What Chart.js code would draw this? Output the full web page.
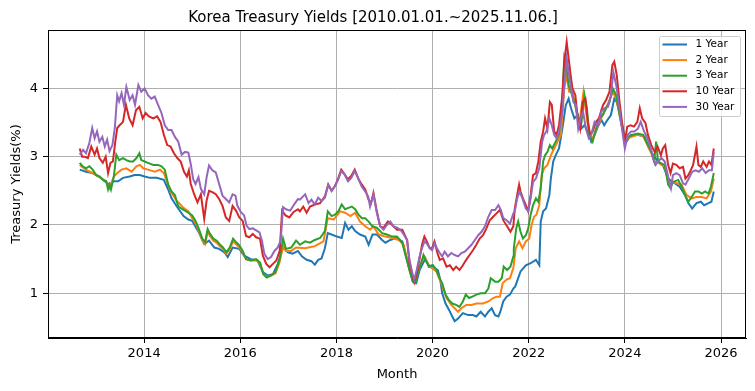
<!DOCTYPE html>
<html>
<head>
<meta charset="utf-8">
<script src="https://cdn.jsdelivr.net/npm/chart.js@4"></script>
<style>
  html, body { margin: 0; padding: 0; background: #fff; }
  #wrap { width: 755px; height: 391px; }
</style>
</head>
<body>
<div id="wrap"><canvas id="myChart" width="755" height="391"></canvas></div>
<script>
// series: [year, yield %]
var yield1Y = [[2012.66,2.81],[2012.79,2.78],[2012.93,2.76],[2013.07,2.71],[2013.18,2.64],[2013.28,2.59],[2013.37,2.64],[2013.46,2.64],[2013.56,2.69],[2013.70,2.71],[2013.80,2.73],[2013.91,2.73],[2014.01,2.71],[2014.12,2.69],[2014.26,2.69],[2014.41,2.66],[2014.50,2.52],[2014.57,2.39],[2014.68,2.27],[2014.82,2.13],[2014.92,2.08],
  [2015.00,2.06],[2015.14,1.89],[2015.25,1.72],[2015.35,1.77],[2015.46,1.67],[2015.56,1.65],[2015.67,1.60],[2015.74,1.53],[2015.84,1.67],[2015.98,1.65],[2016.08,1.55],[2016.22,1.50],[2016.36,1.48],[2016.47,1.31],[2016.57,1.26],[2016.68,1.28],[2016.78,1.43],[2016.89,1.67],[2016.99,1.60],[2017.09,1.58],[2017.20,1.62],
  [2017.28,1.54],[2017.38,1.49],[2017.48,1.47],[2017.55,1.42],[2017.62,1.49],[2017.69,1.51],[2017.76,1.66],[2017.82,1.88],[2017.90,1.86],[2018.01,1.83],[2018.11,1.81],[2018.18,2.03],[2018.25,1.93],[2018.32,1.98],[2018.39,1.91],[2018.49,1.86],[2018.60,1.83],[2018.67,1.71],[2018.75,1.86],[2018.84,1.86],[2018.95,1.78],[2019.02,1.74],[2019.12,1.78],[2019.23,1.81],[2019.37,1.76],[2019.47,1.49],
  [2019.52,1.34],[2019.59,1.17],[2019.66,1.15],[2019.73,1.34],[2019.80,1.44],[2019.85,1.51],[2019.92,1.39],[2019.99,1.41],[2020.04,1.37],[2020.11,1.34],[2020.16,1.20],[2020.20,1.00],[2020.27,0.85],[2020.34,0.76],[2020.41,0.66],[2020.46,0.59],[2020.53,0.63],[2020.63,0.71],[2020.74,0.68],[2020.84,0.68],[2020.91,0.66],[2021.00,0.73],[2021.09,0.66],[2021.16,0.73],[2021.23,0.78],[2021.30,0.68],[2021.37,0.66],[2021.41,0.73],[2021.47,0.88],[2021.54,0.95],[2021.61,0.98],[2021.68,1.07],[2021.72,1.10],
  [2021.83,1.32],[2021.94,1.41],[2022.04,1.44],[2022.15,1.49],[2022.22,1.41],[2022.25,2.05],[2022.30,2.20],[2022.36,2.24],[2022.43,2.44],[2022.46,2.68],[2022.51,2.93],[2022.56,3.02],[2022.63,3.12],[2022.70,3.41],[2022.77,3.75],[2022.83,3.85],[2022.88,3.71],[2022.95,3.56],[2023.02,3.61],[2023.09,3.41],[2023.16,3.46],[2023.23,3.37],[2023.30,3.22],[2023.37,3.32],[2023.44,3.44],[2023.51,3.54],[2023.57,3.46],[2023.64,3.54],[2023.71,3.61],[2023.78,3.85],[2023.83,3.80],[2023.89,3.66],[2023.96,3.41],[2024.00,3.22],
  [2024.03,3.22],[2024.13,3.32],[2024.27,3.32],[2024.41,3.29],[2024.48,3.17],[2024.59,3.02],[2024.69,2.93],[2024.79,2.88],[2024.90,2.68],[2025.00,2.63],[2025.14,2.56],[2025.25,2.44],[2025.32,2.32],[2025.40,2.24],[2025.49,2.32],[2025.58,2.34],[2025.65,2.29],[2025.74,2.32],[2025.80,2.34],[2025.85,2.49]];

var yield2Y = [[2012.66,2.88],[2012.79,2.81],[2013.00,2.73],[2013.21,2.64],[2013.28,2.54],[2013.37,2.71],[2013.44,2.76],[2013.53,2.81],[2013.63,2.83],[2013.74,2.78],[2013.84,2.86],[2013.91,2.88],[2013.98,2.83],[2014.08,2.81],[2014.22,2.78],[2014.33,2.81],[2014.41,2.76],[2014.50,2.59],[2014.57,2.47],[2014.68,2.35],[2014.82,2.25],[2014.92,2.20],
  [2015.00,2.10],[2015.07,2.03],[2015.14,1.91],[2015.21,1.77],[2015.27,1.72],[2015.32,1.90],[2015.37,1.84],[2015.44,1.77],[2015.51,1.74],[2015.57,1.69],[2015.64,1.65],[2015.71,1.58],[2015.78,1.64],[2015.85,1.76],[2015.91,1.72],[2015.98,1.67],[2016.05,1.60],[2016.12,1.50],[2016.22,1.48],[2016.33,1.48],[2016.41,1.44],[2016.48,1.28],[2016.55,1.24],[2016.64,1.26],[2016.73,1.29],[2016.82,1.46],[2016.89,1.70],[2016.95,1.62],[2017.06,1.62],[2017.16,1.67],
  [2017.35,1.66],[2017.55,1.69],[2017.73,1.76],[2017.82,2.10],[2017.94,2.08],[2018.08,2.20],[2018.18,2.18],[2018.29,2.13],[2018.39,2.18],[2018.49,2.05],[2018.60,1.98],[2018.70,1.93],[2018.77,1.98],[2018.88,1.86],[2019.02,1.83],[2019.16,1.81],[2019.30,1.78],[2019.40,1.71],[2019.47,1.49],
  [2019.52,1.34],[2019.62,1.15],[2019.76,1.44],[2019.83,1.54],[2019.94,1.39],[2020.08,1.32],[2020.18,1.15],[2020.29,0.93],[2020.39,0.83],[2020.46,0.78],[2020.53,0.73],[2020.60,0.78],[2020.70,0.83],[2020.81,0.83],[2020.91,0.85],[2021.05,0.85],[2021.16,0.88],[2021.26,0.93],[2021.33,0.95],[2021.40,0.95],[2021.46,1.15],[2021.54,1.20],[2021.61,1.22],[2021.68,1.37],
  [2021.73,1.66],[2021.80,1.76],[2021.87,1.66],[2021.94,1.76],[2022.01,1.80],[2022.06,2.00],[2022.11,2.12],[2022.16,2.15],[2022.22,2.29],[2022.27,2.73],[2022.32,2.83],[2022.39,2.88],[2022.46,3.02],[2022.53,3.12],[2022.60,3.22],[2022.67,3.32],[2022.74,4.00],[2022.79,4.20],[2022.84,3.95],[2022.91,3.95],[2022.98,3.71],[2023.05,3.46],[2023.14,3.95],[2023.19,3.66],[2023.26,3.32],[2023.33,3.27],[2023.44,3.46],[2023.54,3.61],[2023.64,3.76],[2023.75,3.95],[2023.82,3.85],[2023.89,3.61],[2024.00,3.22],
  [2024.06,3.27],[2024.17,3.30],[2024.27,3.32],[2024.38,3.30],[2024.48,3.15],[2024.55,3.05],[2024.61,2.93],[2024.69,2.92],[2024.76,2.88],[2024.83,2.86],[2024.90,2.63],[2025.00,2.63],[2025.18,2.59],[2025.28,2.44],[2025.39,2.39],[2025.49,2.41],[2025.60,2.41],[2025.70,2.39],[2025.79,2.49],[2025.85,2.68]];

var yield3Y = [[2012.66,2.91],[2012.72,2.86],[2012.79,2.83],[2012.86,2.86],[2012.93,2.81],[2013.00,2.73],[2013.07,2.71],[2013.14,2.66],[2013.21,2.64],[2013.25,2.52],[2013.28,2.59],[2013.31,2.52],[2013.37,2.71],[2013.42,3.03],[2013.48,2.95],[2013.56,2.98],[2013.63,2.95],[2013.70,2.93],[2013.77,2.93],[2013.84,2.98],[2013.90,3.05],[2013.94,2.95],[2014.01,2.93],[2014.08,2.91],[2014.19,2.88],[2014.29,2.88],[2014.36,2.86],[2014.43,2.81],[2014.50,2.59],[2014.57,2.49],[2014.64,2.44],[2014.71,2.27],[2014.82,2.22],[2014.92,2.18],
  [2015.00,2.14],[2015.07,2.06],[2015.14,1.94],[2015.21,1.80],[2015.27,1.75],[2015.32,1.94],[2015.37,1.87],[2015.44,1.80],[2015.51,1.77],[2015.57,1.72],[2015.64,1.67],[2015.71,1.60],[2015.78,1.67],[2015.85,1.80],[2015.91,1.75],[2015.98,1.70],[2016.05,1.62],[2016.12,1.50],[2016.22,1.48],[2016.33,1.50],[2016.41,1.45],[2016.48,1.28],[2016.55,1.23],[2016.64,1.26],[2016.73,1.31],[2016.82,1.50],[2016.89,1.80],[2016.95,1.65],[2017.06,1.67],[2017.16,1.77],
  [2017.24,1.71],[2017.35,1.76],[2017.45,1.74],[2017.55,1.78],[2017.66,1.81],[2017.76,1.91],[2017.82,2.20],[2017.90,2.13],[2017.97,2.15],[2018.04,2.20],[2018.11,2.30],[2018.18,2.23],[2018.25,2.25],[2018.32,2.27],[2018.39,2.23],[2018.46,2.15],[2018.53,2.10],[2018.60,2.10],[2018.67,2.05],[2018.75,1.98],[2018.84,1.96],[2018.95,1.88],[2019.05,1.86],[2019.16,1.83],[2019.26,1.83],[2019.37,1.74],[2019.47,1.47],
  [2019.52,1.34],[2019.59,1.17],[2019.64,1.15],[2019.69,1.29],[2019.76,1.44],[2019.81,1.56],[2019.87,1.46],[2019.94,1.39],[2020.01,1.41],[2020.08,1.34],[2020.13,1.24],[2020.20,1.15],[2020.27,0.98],[2020.34,0.90],[2020.41,0.85],[2020.49,0.83],[2020.56,0.80],[2020.63,0.88],[2020.69,0.98],[2020.76,0.93],[2020.83,0.95],[2020.91,0.98],[2021.00,1.00],[2021.09,1.00],[2021.16,1.07],[2021.21,1.22],[2021.30,1.17],[2021.37,1.17],[2021.44,1.22],[2021.48,1.39],[2021.55,1.34],[2021.62,1.39],[2021.68,1.54],
  [2021.69,1.66],[2021.74,1.95],[2021.78,2.05],[2021.83,1.90],[2021.88,1.80],[2021.94,1.85],[2021.99,1.95],[2022.04,2.15],[2022.09,2.29],[2022.15,2.39],[2022.20,2.34],[2022.25,2.54],[2022.30,2.93],[2022.34,3.02],[2022.39,3.07],[2022.44,3.17],[2022.49,3.12],[2022.56,3.22],[2022.63,3.32],[2022.70,3.85],[2022.74,4.46],[2022.77,4.39],[2022.83,4.05],[2022.88,3.95],[2022.95,3.80],[2023.02,3.61],[2023.09,3.46],[2023.16,3.90],[2023.21,3.71],[2023.26,3.32],[2023.33,3.22],[2023.40,3.41],[2023.47,3.56],[2023.54,3.61],[2023.61,3.71],[2023.68,3.80],[2023.75,4.00],[2023.82,3.90],[2023.89,3.61],[2023.96,3.37],[2024.00,3.17],
  [2024.06,3.29],[2024.17,3.32],[2024.27,3.34],[2024.38,3.32],[2024.48,3.17],[2024.55,3.07],[2024.61,2.93],[2024.65,3.22],[2024.69,2.93],[2024.76,2.90],[2024.83,2.88],[2024.90,2.59],[2024.95,2.54],[2025.00,2.63],[2025.11,2.66],[2025.18,2.56],[2025.25,2.44],[2025.32,2.34],[2025.39,2.41],[2025.46,2.49],[2025.53,2.49],[2025.60,2.46],[2025.67,2.49],[2025.74,2.46],[2025.79,2.56],[2025.85,2.76]];

var yield10Y = [[2012.66,3.12],[2012.71,3.00],[2012.76,3.00],[2012.83,2.98],[2012.90,3.15],[2012.97,3.03],[2013.02,3.12],[2013.07,2.98],[2013.14,2.91],[2013.20,3.00],[2013.25,2.76],[2013.30,2.91],[2013.35,2.93],[2013.40,3.22],[2013.44,3.42],[2013.49,3.46],[2013.56,3.51],[2013.62,3.76],[2013.69,3.56],[2013.76,3.46],[2013.83,3.68],[2013.90,3.73],[2013.97,3.56],[2014.03,3.64],[2014.10,3.59],[2014.19,3.56],[2014.27,3.59],[2014.34,3.51],[2014.41,3.32],[2014.48,3.17],[2014.55,3.15],[2014.62,3.05],[2014.69,2.98],[2014.76,2.93],[2014.83,2.78],[2014.89,2.71],[2014.93,2.80],
  [2014.97,2.60],[2015.04,2.45],[2015.11,2.33],[2015.18,2.45],[2015.25,2.09],[2015.30,2.36],[2015.35,2.50],[2015.42,2.48],[2015.49,2.45],[2015.56,2.38],[2015.63,2.28],[2015.70,2.11],[2015.77,2.06],[2015.84,2.28],[2015.91,2.21],[2015.98,2.11],[2016.05,2.06],[2016.12,1.84],[2016.19,1.82],[2016.26,1.87],[2016.33,1.82],[2016.41,1.80],[2016.47,1.55],[2016.54,1.43],[2016.61,1.38],[2016.68,1.43],[2016.75,1.48],[2016.82,1.62],[2016.87,2.21],[2016.94,2.14],[2017.02,2.11],[2017.11,2.19],[2017.20,2.23],
  [2017.24,2.20],[2017.31,2.27],[2017.38,2.18],[2017.45,2.27],[2017.55,2.30],[2017.66,2.32],[2017.76,2.42],[2017.83,2.59],[2017.90,2.50],[2017.97,2.57],[2018.04,2.69],[2018.10,2.81],[2018.17,2.74],[2018.24,2.67],[2018.31,2.72],[2018.38,2.81],[2018.46,2.67],[2018.53,2.59],[2018.60,2.52],[2018.67,2.37],[2018.72,2.32],[2018.77,2.47],[2018.84,2.20],[2018.91,1.98],[2018.98,1.96],[2019.07,2.05],[2019.16,2.00],[2019.26,1.93],[2019.37,1.93],[2019.47,1.78],
  [2019.52,1.44],[2019.58,1.27],[2019.62,1.17],[2019.67,1.29],[2019.73,1.51],[2019.78,1.71],[2019.83,1.83],[2019.88,1.76],[2019.94,1.66],[2019.99,1.66],[2020.04,1.76],[2020.10,1.59],[2020.15,1.49],[2020.22,1.51],[2020.29,1.39],[2020.36,1.41],[2020.43,1.34],[2020.49,1.39],[2020.56,1.34],[2020.63,1.41],[2020.70,1.49],[2020.77,1.56],[2020.84,1.63],[2020.91,1.71],[2020.98,1.80],[2021.05,1.85],[2021.12,1.95],[2021.19,2.07],[2021.26,2.12],[2021.33,2.17],[2021.40,2.22],[2021.47,2.07],[2021.55,1.98],[2021.62,1.90],[2021.68,1.98],
  [2021.71,2.24],[2021.76,2.44],[2021.80,2.59],[2021.83,2.49],[2021.88,2.39],[2021.94,2.29],[2021.99,2.20],[2022.04,2.44],[2022.09,2.73],[2022.15,2.76],[2022.20,2.93],[2022.25,3.22],[2022.30,3.37],[2022.34,3.56],[2022.39,3.41],[2022.44,3.80],[2022.48,3.76],[2022.53,3.37],[2022.58,3.32],[2022.63,3.46],[2022.70,3.90],[2022.74,4.39],[2022.79,4.68],[2022.83,4.44],[2022.88,4.15],[2022.91,4.00],[2022.97,3.90],[2023.02,3.56],[2023.07,3.41],[2023.12,3.80],[2023.18,3.85],[2023.23,3.51],[2023.28,3.32],[2023.33,3.37],[2023.40,3.51],[2023.46,3.56],[2023.51,3.68],[2023.55,3.76],[2023.61,3.83],[2023.68,3.95],[2023.74,4.34],[2023.78,4.39],[2023.83,4.20],[2023.89,3.80],[2023.94,3.51],[2024.00,3.22],
  [2024.05,3.44],[2024.12,3.46],[2024.19,3.44],[2024.26,3.51],[2024.31,3.71],[2024.36,3.56],[2024.43,3.49],[2024.48,3.32],[2024.55,3.17],[2024.62,3.07],[2024.68,3.15],[2024.75,3.02],[2024.79,3.12],[2024.84,3.17],[2024.90,2.88],[2024.95,2.76],[2025.00,2.90],[2025.07,2.88],[2025.14,2.83],[2025.21,2.85],[2025.26,2.68],[2025.32,2.73],[2025.37,2.80],[2025.42,2.88],[2025.49,3.15],[2025.53,2.88],[2025.58,2.85],[2025.63,2.93],[2025.70,2.85],[2025.75,2.93],[2025.80,2.88],[2025.85,3.12]];

var yield30Y = [[2012.66,3.03],[2012.73,3.10],[2012.79,3.05],[2012.86,3.20],[2012.92,3.42],[2012.97,3.27],[2013.02,3.37],[2013.07,3.22],[2013.13,3.29],[2013.18,3.15],[2013.23,3.25],[2013.28,3.08],[2013.34,3.17],[2013.39,3.42],[2013.44,3.90],[2013.48,3.81],[2013.53,3.93],[2013.58,3.76],[2013.63,4.02],[2013.70,3.83],[2013.76,3.90],[2013.81,3.76],[2013.88,4.05],[2013.94,3.95],[2014.01,4.00],[2014.08,3.90],[2014.15,3.85],[2014.22,3.88],[2014.29,3.76],[2014.36,3.64],[2014.43,3.46],[2014.50,3.39],[2014.57,3.39],[2014.64,3.29],[2014.71,3.22],[2014.78,3.03],[2014.85,3.07],[2014.92,3.06],
  [2014.97,2.89],[2015.02,2.67],[2015.07,2.60],[2015.13,2.70],[2015.18,2.53],[2015.25,2.45],[2015.30,2.70],[2015.35,2.87],[2015.42,2.80],[2015.49,2.77],[2015.56,2.60],[2015.63,2.43],[2015.70,2.38],[2015.77,2.33],[2015.84,2.45],[2015.90,2.43],[2015.94,2.28],[2016.01,2.19],[2016.08,2.14],[2016.13,1.99],[2016.19,1.94],[2016.26,1.95],[2016.33,1.92],[2016.40,1.89],[2016.45,1.77],[2016.50,1.58],[2016.57,1.50],[2016.64,1.53],[2016.71,1.62],[2016.78,1.67],[2016.84,1.77],[2016.89,2.26],[2016.95,2.23],[2017.04,2.21],[2017.13,2.31],[2017.20,2.38],
  [2017.24,2.37],[2017.35,2.45],[2017.42,2.32],[2017.48,2.37],[2017.55,2.30],[2017.62,2.40],[2017.69,2.35],[2017.76,2.40],[2017.83,2.59],[2017.90,2.50],[2017.97,2.57],[2018.04,2.67],[2018.10,2.79],[2018.17,2.74],[2018.24,2.64],[2018.31,2.69],[2018.38,2.79],[2018.45,2.69],[2018.52,2.57],[2018.59,2.50],[2018.66,2.42],[2018.70,2.27],[2018.77,2.45],[2018.84,2.18],[2018.91,1.98],[2018.98,1.93],[2019.05,2.00],[2019.12,2.05],[2019.19,1.98],[2019.26,1.96],[2019.33,1.93],[2019.40,1.86],[2019.47,1.78],
  [2019.52,1.49],[2019.58,1.29],[2019.62,1.20],[2019.67,1.34],[2019.73,1.54],[2019.78,1.66],[2019.83,1.76],[2019.88,1.73],[2019.94,1.66],[2019.99,1.63],[2020.04,1.73],[2020.09,1.66],[2020.15,1.59],[2020.20,1.54],[2020.25,1.61],[2020.32,1.54],[2020.39,1.59],[2020.46,1.56],[2020.53,1.54],[2020.60,1.59],[2020.67,1.61],[2020.74,1.66],[2020.81,1.71],[2020.88,1.78],[2020.95,1.85],[2021.02,1.90],[2021.09,1.98],[2021.16,2.12],[2021.23,2.22],[2021.30,2.22],[2021.37,2.29],[2021.42,2.22],[2021.47,2.10],[2021.54,2.07],[2021.61,2.02],[2021.68,2.17],
  [2021.71,2.20],[2021.76,2.39],[2021.81,2.49],[2021.87,2.39],[2021.94,2.24],[2021.99,2.20],[2022.04,2.39],[2022.09,2.63],[2022.15,2.68],[2022.22,2.83],[2022.28,3.22],[2022.32,3.32],[2022.37,3.37],[2022.43,3.56],[2022.48,3.46],[2022.53,3.32],[2022.58,3.27],[2022.63,3.37],[2022.70,3.66],[2022.74,4.05],[2022.79,4.44],[2022.83,4.24],[2022.88,4.00],[2022.93,3.80],[2022.98,3.76],[2023.03,3.41],[2023.08,3.56],[2023.13,3.66],[2023.19,3.41],[2023.25,3.27],[2023.30,3.32],[2023.37,3.51],[2023.44,3.46],[2023.51,3.66],[2023.58,3.71],[2023.65,3.73],[2023.71,3.90],[2023.76,4.24],[2023.82,4.05],[2023.87,3.80],[2023.93,3.46],[2024.00,3.12],
  [2024.06,3.32],[2024.13,3.37],[2024.20,3.37],[2024.27,3.41],[2024.33,3.51],[2024.40,3.37],[2024.47,3.27],[2024.54,3.12],[2024.59,2.98],[2024.64,2.88],[2024.69,2.93],[2024.76,2.98],[2024.83,2.93],[2024.90,2.71],[2024.96,2.54],[2025.00,2.73],[2025.07,2.76],[2025.14,2.73],[2025.21,2.61],[2025.26,2.59],[2025.33,2.68],[2025.40,2.78],[2025.47,2.80],[2025.54,2.78],[2025.61,2.83],[2025.68,2.76],[2025.75,2.80],[2025.81,2.80],[2025.85,3.07]];

var seriesNames = ['1 Year', '2 Year', '3 Year', '10 Year', '30 Year'];
var seriesData = [yield1Y, yield2Y, yield3Y, yield10Y, yield30Y];
var seriesColors = ['#1f77b4', '#ff7f0e', '#2ca02c', '#d62728', '#9467bd'];
var xTicks = [2014, 2016, 2018, 2020, 2022, 2024, 2026];
var yTicks = [1, 2, 3, 4];

var FONT = 'DejaVu Sans';

// frame on all four sides, drawn above the lines like matplotlib spines
var frameBox = {
    id: 'frameBox',
    afterDatasetsDraw: function (chart) {
        var a = chart.chartArea, c = chart.ctx;
        c.save();
        c.strokeStyle = '#000';
        c.lineWidth = 1;
        c.strokeRect(Math.round(a.left) + 0.5, Math.round(a.top) + 0.5, Math.round(a.right - a.left) - 1, Math.round(a.bottom - a.top) - 1);
        c.restore();
    }
};

// legend box in the upper right corner of the plot
var insideLegend = {
    id: 'insideLegend',
    afterDraw: function (chart) {
        var c = chart.ctx;
        var bx = 659.5, by = 36.5, bw = 81, bh = 80;
        c.save();
        c.beginPath();
        c.roundRect(bx, by, bw, bh, 2);
        c.fillStyle = 'rgba(255,255,255,0.8)';
        c.fill();
        c.strokeStyle = '#cccccc';
        c.lineWidth = 1;
        c.stroke();
        c.font = '10.5px "' + FONT + '"';
        c.textBaseline = 'middle';
        c.fillStyle = '#000';
        chart.data.datasets.forEach(function (ds, i) {
            var yy = 44.5 + i * 15.6;
            c.beginPath();
            c.moveTo(662.5, yy);
            c.lineTo(687, yy);
            c.strokeStyle = ds.borderColor;
            c.lineWidth = 2;
            c.stroke();
            c.fillText(ds.label, 695.5, yy);
        });
        c.restore();
    }
};

var ctx = document.getElementById('myChart').getContext('2d');
var myChart = new Chart(ctx, {
    type: 'line',
    data: {
        datasets: seriesNames.map(function (name, i) {
            return {
                label: name,
                data: seriesData[i].map(function (p) { return { x: p[0], y: p[1] }; }),
                borderColor: seriesColors[i],
                backgroundColor: seriesColors[i],
                borderWidth: 2,
                pointRadius: 0,
                tension: 0,
                order: seriesNames.length - i
            };
        })
    },
    options: {
        responsive: false,
        animation: false,
        devicePixelRatio: 1,
        layout: { padding: { left: 0, right: 9, top: 0, bottom: 0 } },
        scales: {
            x: {
                type: 'linear',
                min: 2012.0,
                max: 2026.52,
                afterBuildTicks: function (s) { s.ticks = xTicks.map(function (v) { return { value: v }; }); },
                afterFit: function (s) { s.height = 53; },
                ticks: {
                    font: { family: FONT, size: 13 },
                    color: '#000',
                    padding: 3,
                    maxRotation: 0,
                    callback: function (v) { return String(v); }
                },
                grid: { color: '#b0b0b0', lineWidth: 1, tickColor: '#000', tickLength: 5 },
                border: { color: '#000', width: 1 },
                title: { display: true, text: 'Month', color: '#000', font: { family: FONT, size: 13 }, padding: { top: 0, bottom: 9 } }
            },
            y: {
                min: 0.345,
                max: 4.855,
                afterBuildTicks: function (s) { s.ticks = yTicks.map(function (v) { return { value: v }; }); },
                afterFit: function (s) { s.width = 48; },
                ticks: {
                    font: { family: FONT, size: 13 },
                    color: '#000',
                    padding: 5,
                    callback: function (v) { return String(v); }
                },
                grid: { color: '#b0b0b0', lineWidth: 1, tickColor: '#000', tickLength: 5 },
                border: { color: '#000', width: 1 },
                title: { display: true, text: 'Treasury Yields(%)', color: '#000', font: { family: FONT, size: 13 }, padding: { top: 8.5, bottom: 0 } }
            }
        },
        plugins: {
            legend: { display: false },
            tooltip: { enabled: false },
            title: {
                display: true,
                text: 'Korea Treasury Yields [2010.01.01.~2025.11.06.]',
                color: '#000',
                font: { family: FONT, size: 15, weight: 'normal' },
                padding: { top: 9, bottom: 3 }
            }
        }
    },
    plugins: [frameBox, insideLegend]
});
</script>
</body>
</html>
